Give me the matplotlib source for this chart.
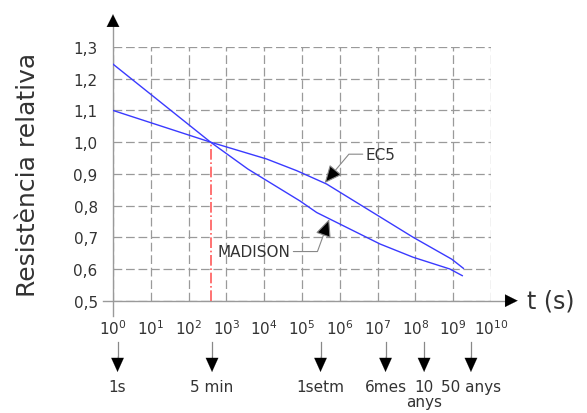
import matplotlib
matplotlib.use("Agg")
import matplotlib.pyplot as plt
import numpy as np

# log10(t) readings from the picture
madison_logt = [0.0, 2.58, 3.57, 4.94, 5.39, 7.06, 7.94, 8.91, 9.24]
madison_r = [1.246, 1.0, 0.915, 0.815, 0.778, 0.679, 0.637, 0.600, 0.579]

ec5_logt = [0.0, 2.58, 4.06, 4.86, 5.65, 7.94, 8.96, 9.27]
ec5_r = [1.10, 1.0, 0.947, 0.910, 0.868, 0.700, 0.631, 0.602]

ref_logt = 2.58  # 5 min reference

y_ticks = [0.5, 0.6, 0.7, 0.8, 0.9, 1.0, 1.1, 1.2, 1.3]
y_ticklabels = ["0,5", "0,6", "0,7", "0,8", "0,9", "1,0", "1,1", "1,2", "1,3"]
x_decades = list(range(0, 11))

marks_logt = [0.12, 2.62, 5.49, 7.21, 8.23, 9.47]
marks_text = ["1s", "5 min", "1setm", "6mes", "10\nanys", "50 anys"]

txt = "#333333"
grey = "#9a9a9a"
blue = "#3a3aff"

plt.rcParams["font.family"] = ["DejaVu Sans"]

fig = plt.figure(figsize=(5.87, 4.14), dpi=100)
ax = fig.add_axes([113 / 587, 112.3 / 414, 378 / 587, 253.7 / 414])

ax.set_xscale("log")
ax.set_xlim(1, 1e10)
ax.set_ylim(0.5, 1.3)

for s in ax.spines.values():
    s.set_visible(False)

ax.set_xticks([10.0 ** d for d in x_decades])
ax.minorticks_off()
ax.set_yticks(y_ticks)
ax.set_yticklabels(y_ticklabels)
ax.tick_params(axis="both", length=0, labelsize=11, colors=txt)
ax.tick_params(axis="x", pad=13)
ax.tick_params(axis="y", pad=11)

ax.grid(True, color=grey, lw=0.9, dashes=(7, 3))

# axes with arrows
ax.plot([-0.026, 1.06], [0, 0], transform=ax.transAxes, color=grey, lw=1, clip_on=False)
ax.plot([0, 0], [-0.06, 1.11], transform=ax.transAxes, color=grey, lw=1, clip_on=False)
ax.annotate("", xy=(1.078, 0), xytext=(1.04, 0), xycoords="axes fraction",
            arrowprops=dict(arrowstyle="-|>,head_length=0.9,head_width=0.45", color="black", lw=0.1))
ax.annotate("", xy=(0, 1.14), xytext=(0, 1.08), xycoords="axes fraction",
            arrowprops=dict(arrowstyle="-|>,head_length=0.9,head_width=0.45", color="black", lw=0.1))

ax.text(1.095, 0, "t (s)", transform=ax.transAxes, fontsize=17, color=txt, va="center", ha="left")
ax.set_ylabel("Resistència relativa", fontsize=18, color=txt, labelpad=24)

# curves
ax.plot(10.0 ** np.array(madison_logt), madison_r, color=blue, lw=1)
ax.plot(10.0 ** np.array(ec5_logt), ec5_r, color=blue, lw=1)
ax.plot([10 ** ref_logt, 10 ** ref_logt], [0.5, 1.0], color="#ff5a5a", lw=1.2, ls="-.")

arr = dict(arrowstyle="-|>,head_length=1.0,head_width=0.45", ec="#888888", fc="black", lw=0.8,
           shrinkA=0, shrinkB=0)
ax.annotate("EC5", xy=(10 ** 5.6, 0.871), xytext=(10 ** 6.68, 0.962), fontsize=11, color=txt,
            va="center", ha="left",
            arrowprops=dict(arr, connectionstyle="angle,angleA=0,angleB=50,rad=0"))
ax.annotate("MADISON", xy=(10 ** 5.72, 0.757), xytext=(10 ** 2.77, 0.655), fontsize=11, color=txt,
            va="center", ha="left",
            arrowprops=dict(arr, connectionstyle="angle,angleA=0,angleB=70,rad=0", relpos=(1, 0.5)))

# time marks below the axis
tx = ax.get_xaxis_transform()
for lt, lab in zip(marks_logt, marks_text):
    ax.plot([10 ** lt, 10 ** lt], [-0.163, -0.24], transform=tx, color="#888888", lw=0.9,
            clip_on=False)
    ax.annotate("", xy=(10 ** lt, -0.281), xytext=(10 ** lt, -0.22), xycoords=tx,
                arrowprops=dict(arrowstyle="-|>,head_length=1.0,head_width=0.45",
                                color="black", lw=0.1, shrinkA=0, shrinkB=0))
    ax.text(10 ** lt, -0.31, lab, transform=tx, fontsize=11, color=txt, ha="center", va="top",
            linespacing=1.0)

fig.savefig("out.png", dpi=100)
